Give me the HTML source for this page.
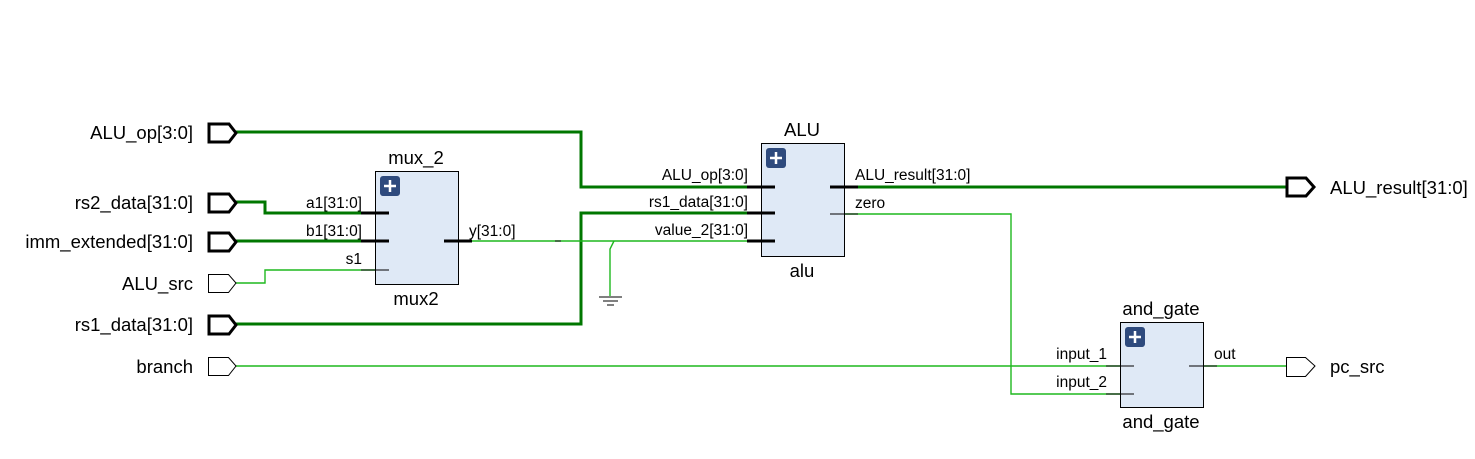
<!DOCTYPE html>
<html><head><meta charset="utf-8"><style>
html,body{margin:0;padding:0;background:#fff;}
svg{display:block;font-family:"Liberation Sans","DejaVu Sans",sans-serif;}
</style></head><body>
<svg width="1475" height="459" viewBox="0 0 1475 459" xmlns="http://www.w3.org/2000/svg">
<g fill="none" stroke-linejoin="miter">
<g stroke="#007700" stroke-width="3">
<polyline points="236,132 581,132 581,187 761,187"/>
<polyline points="236,202 265,202 265,213 375,213"/>
<polyline points="236,241 375,241"/>
<polyline points="236,324 581,324 581,213 761,213"/>
<polyline points="844,187 1288,187"/>
</g>
<g stroke="#1fb81f" stroke-width="1.4">
<polyline points="236,283 265,283 265,270 375,270"/>
<polyline points="472,241 761,241"/>
<polyline points="614,241 610,249 610,296"/>
<polyline points="844,214 1011,214 1011,394 1120,394"/>
<polyline points="236,366 1120,366"/>
<polyline points="1203,366 1288,366"/>
</g>
<g stroke="#000" stroke-width="1">
<line x1="599" y1="297" x2="622" y2="297"/>
<line x1="603" y1="301" x2="618" y2="301"/>
<line x1="607" y1="305" x2="614" y2="305"/>
<line x1="555" y1="241" x2="561" y2="241"/>
</g>
<g fill="#dfe9f6" stroke="#000" stroke-width="1">
<rect x="375.5" y="171.5" width="83" height="113"/>
<rect x="761.5" y="143.5" width="83" height="113"/>
<rect x="1120.5" y="322.5" width="83" height="85"/>
</g>
<g stroke="#000" stroke-width="3">
<line x1="361" y1="213" x2="389" y2="213"/>
<line x1="361" y1="241" x2="389" y2="241"/>
<line x1="444" y1="241" x2="472" y2="241"/>
<line x1="747" y1="187" x2="775" y2="187"/>
<line x1="747" y1="213" x2="775" y2="213"/>
<line x1="747" y1="241" x2="775" y2="241"/>
<line x1="830" y1="187" x2="858" y2="187"/>
</g>
<g stroke="#000" stroke-width="1">
<line x1="361" y1="270" x2="389" y2="270"/>
<line x1="830" y1="214" x2="858" y2="214"/>
<line x1="1106" y1="366" x2="1134" y2="366"/>
<line x1="1106" y1="394" x2="1134" y2="394"/>
<line x1="1189" y1="366" x2="1217" y2="366"/>
</g>
<g stroke="#000" stroke-width="3" fill="#fff">
<polygon points="209,124 229,124 236,133 229,142 209,142"/>
<polygon points="209,194 229,194 236,203 229,212 209,212"/>
<polygon points="209,233 229,233 236,242 229,251 209,251"/>
<polygon points="209,316 229,316 236,325 229,334 209,334"/>
<polygon points="1287,178 1306,178 1314,187 1306,196 1287,196"/>
</g>
<g stroke="#000" stroke-width="1" fill="#fff">
<polygon points="208.5,274.5 228.5,274.5 236,283 228.5,292.5 208.5,292.5"/>
<polygon points="208.5,357.5 228.5,357.5 236,366 228.5,375.5 208.5,375.5"/>
<polygon points="1286.5,357.5 1305.5,357.5 1315,366 1305.5,376.5 1286.5,376.5"/>
</g>
</g>
<g>
<rect x="380" y="176" width="20" height="20" rx="3" fill="#2e4a7d"/>
<rect x="766" y="148" width="20" height="20" rx="3" fill="#2e4a7d"/>
<rect x="1125" y="327" width="20" height="20" rx="3" fill="#2e4a7d"/>
<g stroke="#fff" stroke-width="2.5">
<line x1="384" y1="186" x2="396" y2="186"/><line x1="390" y1="180" x2="390" y2="192"/>
<line x1="770" y1="158" x2="782" y2="158"/><line x1="776" y1="152" x2="776" y2="164"/>
<line x1="1129" y1="337" x2="1141" y2="337"/><line x1="1135" y1="331" x2="1135" y2="343"/>
</g>
</g>
<g fill="#000" font-size="18.5" text-anchor="end">
<text x="193" y="139">ALU_op[3:0]</text>
<text x="193" y="209">rs2_data[31:0]</text>
<text x="193" y="248">imm_extended[31:0]</text>
<text x="193" y="290">ALU_src</text>
<text x="193" y="331">rs1_data[31:0]</text>
<text x="193" y="373">branch</text>
</g>
<g fill="#000" font-size="18.5">
<text x="1330" y="194">ALU_result[31:0]</text>
<text x="1330" y="373">pc_src</text>
</g>
<g fill="#000" font-size="18.5" text-anchor="middle">
<text x="416" y="164">mux_2</text>
<text x="416" y="305">mux2</text>
<text x="802" y="136">ALU</text>
<text x="802" y="277">alu</text>
<text x="1161" y="315">and_gate</text>
<text x="1161" y="428">and_gate</text>
</g>
<g fill="#000" font-size="15.5" text-anchor="end">
<text x="362" y="208">a1[31:0]</text>
<text x="362" y="236">b1[31:0]</text>
<text x="362" y="264">s1</text>
<text x="748" y="180">ALU_op[3:0]</text>
<text x="748" y="207">rs1_data[31:0]</text>
<text x="748" y="235">value_2[31:0]</text>
<text x="1107" y="359">input_1</text>
<text x="1107" y="387">input_2</text>
</g>
<g fill="#000" font-size="15.5">
<text x="469" y="236">y[31:0]</text>
<text x="855" y="180">ALU_result[31:0]</text>
<text x="855" y="208">zero</text>
<text x="1214" y="359">out</text>
</g>
</svg>
</body></html>
